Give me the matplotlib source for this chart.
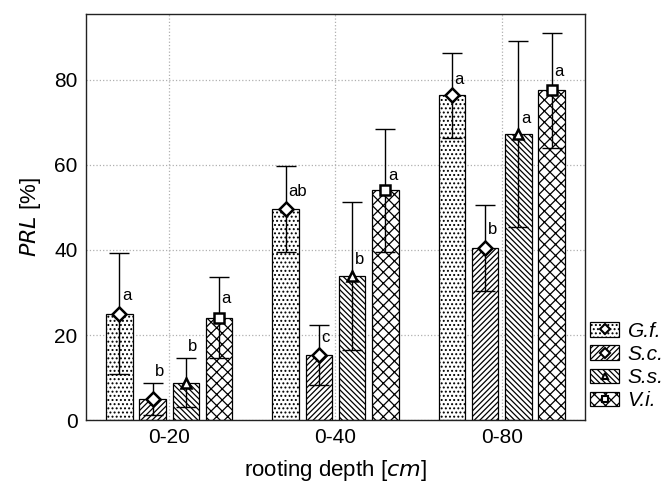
import matplotlib
matplotlib.use('Agg')
import matplotlib.pyplot as plt
from matplotlib.patches import Patch
from matplotlib.lines import Line2D
import numpy as np

# --- data ---
depths = ['0-20', '0-40', '0-80']
species = ['G.f.', 'S.c.', 'S.s.', 'V.i.']
means = {
    'G.f.': [25.0, 49.7, 76.4],
    'S.c.': [4.9, 15.3, 40.5],
    'S.s.': [8.8, 33.9, 67.2],
    'V.i.': [24.1, 54.0, 77.6],
}
errors = {
    'G.f.': [14.2, 10.1, 10.0],
    'S.c.': [3.8, 7.0, 10.2],
    'S.s.': [5.7, 17.5, 21.9],
    'V.i.': [9.5, 14.4, 13.5],
}
letters = {
    'G.f.': ['a', 'ab', 'a'],
    'S.c.': ['b', 'c', 'b'],
    'S.s.': ['b', 'b', 'a'],
    'V.i.': ['a', 'a', 'a'],
}
letter_y = {
    'G.f.': [29.2, 53.7, 80.2],
    'S.c.': [11.4, 19.3, 44.9],
    'S.s.': [17.4, 37.8, 71.0],
    'V.i.': [28.7, 57.6, 82.0],
}

hatches = {'G.f.': '....', 'S.c.': '//////', 'S.s.': '\\\\\\\\\\\\', 'V.i.': 'xxx'}
markers = {'G.f.': 'D', 'S.c.': 'D', 'S.s.': '^', 'V.i.': 's'}

plt.rcParams['font.family'] = ['Liberation Sans', 'DejaVu Sans']
plt.rcParams['hatch.linewidth'] = 0.9

fig = plt.figure(figsize=(6.72, 4.95), dpi=100)
ax = fig.add_axes([0.128, 0.1515, 0.7425, 0.82])

x = np.arange(len(depths)) + 0.5
width = 0.16
offsets = [-0.3, -0.1, 0.1, 0.3]

handles = []
for i, sp in enumerate(species):
    xs = x + offsets[i]
    ax.bar(xs, means[sp], width, color='white', edgecolor='black',
           hatch=hatches[sp], linewidth=0.9, zorder=2)
    ax.errorbar(xs, means[sp], yerr=errors[sp], fmt='none', ecolor='black',
                elinewidth=1.0, capsize=7, capthick=1.0, zorder=3)
    ax.plot(xs, means[sp], linestyle='none', marker=markers[sp],
            markersize=7, markerfacecolor='white', markeredgecolor='black',
            markeredgewidth=1.8, zorder=4)
    for j in range(len(depths)):
        ax.text(xs[j] + 0.015, letter_y[sp][j], letters[sp][j],
                fontsize=12, ha='left', va='center', zorder=5)
    handles.append((Patch(facecolor='white', edgecolor='black', hatch=hatches[sp], linewidth=0.9),
                    Line2D([], [], linestyle='none', marker=markers[sp], markersize=5,
                           markerfacecolor='white', markeredgecolor='black',
                           markeredgewidth=1.5)))

ax.set_xlim(0, 3)
ax.set_ylim(0, 95.5)
ax.set_xticks(x)
ax.set_xticklabels(depths, fontsize=15)
ax.set_yticks([0, 20, 40, 60, 80])
ax.tick_params(axis='both', length=0, labelsize=15, pad=6)
ax.grid(True, linestyle=':', color='#b0b0b0', linewidth=0.9, zorder=0)
ax.set_axisbelow(True)
for s in ax.spines.values():
    s.set_color('#222222')
    s.set_linewidth(1.0)

ax.set_ylabel(r'$\mathit{PRL}$ [%]', fontsize=16, labelpad=8)
ax.set_xlabel(r'rooting depth [$\mathit{cm}$]', fontsize=16, labelpad=8)

leg = fig.legend(handles, species, loc='upper left', bbox_to_anchor=(0.878, 0.35),
                 frameon=False, fontsize=15, handlelength=1.4, handleheight=0.7,
                 handletextpad=0.4, labelspacing=0.2, borderaxespad=0, borderpad=0)
for t in leg.get_texts():
    t.set_fontstyle('italic')

fig.savefig('out.png', dpi=100)
